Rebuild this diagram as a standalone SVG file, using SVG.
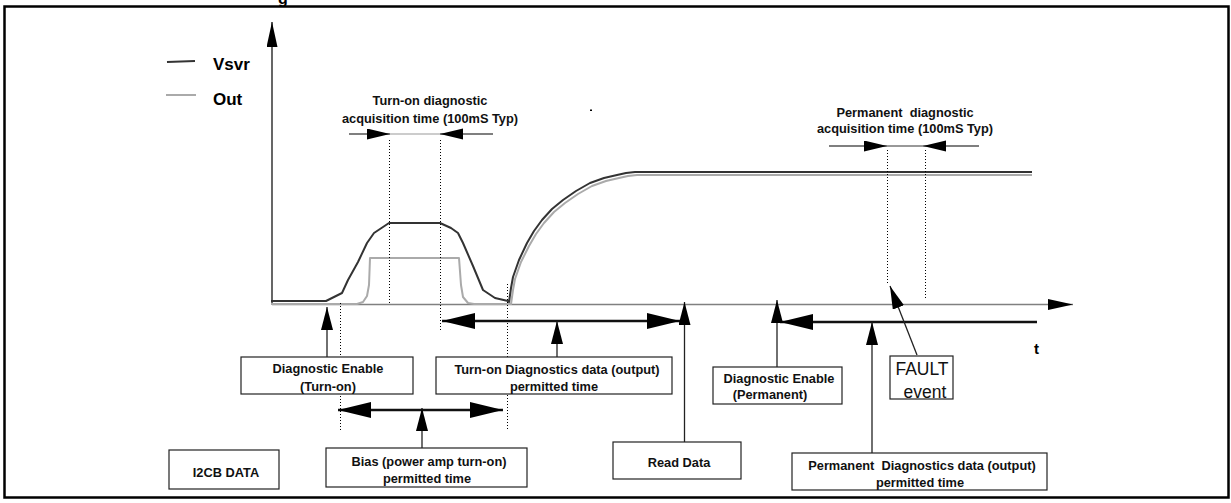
<svg xmlns="http://www.w3.org/2000/svg" width="1231" height="503" viewBox="0 0 1231 503">
<style>
.t{font-family:"Liberation Sans",Arial,sans-serif;font-weight:bold;font-size:12.8px;fill:#111;text-anchor:middle;white-space:pre}
.box{fill:#fff;stroke:#222;stroke-width:1.2}
.dot{stroke:#000;stroke-width:1;stroke-dasharray:1,2;fill:none}
.thick{stroke:#111;stroke-width:2.6;fill:none}
.thin{stroke:#222;stroke-width:1.3;fill:none}
</style>
<defs>
<marker id="big" markerUnits="userSpaceOnUse" markerWidth="34" markerHeight="18" refX="33" refY="8" orient="auto-start-reverse"><path d="M0,0 L33,8 L0,16 z" fill="#000"/></marker>
<marker id="sm" markerUnits="userSpaceOnUse" markerWidth="24" markerHeight="12" refX="23" refY="5.5" orient="auto-start-reverse"><path d="M0,0 L23,5.5 L0,11 z" fill="#000"/></marker>
<marker id="up" markerUnits="userSpaceOnUse" markerWidth="24" markerHeight="14" refX="23" refY="6" orient="auto"><path d="M0,0 L23,6 L0,12 z" fill="#000"/></marker>
<marker id="ax" markerUnits="userSpaceOnUse" markerWidth="26" markerHeight="12" refX="25" refY="5.5" orient="auto"><path d="M0,0 L25,5.5 L0,11 z" fill="#000"/></marker>
</defs>
<rect x="4.5" y="6.5" width="1224" height="491" fill="#fff" stroke="#000" stroke-width="2.5"/>
<text x="283" y="4" style="font-family:'Liberation Sans',Arial,sans-serif;font-weight:bold;font-size:16px" text-anchor="middle">g</text>
<rect x="590" y="109.5" width="2" height="1.5" fill="#000"/>

<g id="axes">
<line x1="272" y1="304" x2="272" y2="22" stroke="#000" stroke-width="1.2" marker-end="url(#ax)"/>
<line x1="272" y1="304.5" x2="1073" y2="304.5" stroke="#808080" stroke-width="1.5" marker-end="url(#ax)"/>
<text x="1034" y="354" style="font-family:'Liberation Sans',Arial,sans-serif;font-weight:bold;font-size:15px">t</text>
</g>

<g id="legend">
<line x1="167" y1="62" x2="195" y2="61" stroke="#333" stroke-width="2"/>
<line x1="166" y1="95" x2="196" y2="95" stroke="#aaa" stroke-width="2"/>
<text x="213" y="70" style="font-family:'Liberation Sans',Arial,sans-serif;font-weight:bold;font-size:17px">Vsvr</text>
<text x="213" y="105" style="font-family:'Liberation Sans',Arial,sans-serif;font-weight:bold;font-size:17px">Out</text>
</g>

<g id="curves" fill="none" stroke-linejoin="round">
<polyline stroke="#aaa" stroke-width="2" points="271,304 357,304 363,302 367,296 369,285 370,258 459,258 461,285 463,297 468,303 474,304 509,304 511,304 513,290 515,279 521,262 529,246 536,234 544,223 554,212 565,203 578,194 592,186 606,181 619,178 628,176 637,175 1032,175"/>
<polyline stroke="#333" stroke-width="2" points="271,301 326,301 342,293 348,280 358,262 367,243 374,233 389,223 440,223 451,228 458,233 463,243 473,266 483,290 495,298 508,301 509,302 511,288 513,277 519,260 527,243 534,231 542,220 552,209 563,200 576,191 590,183 604,178 617,175 626,173 635,172 1032,172"/>
</g>

<g id="dotted">
<line class="dot" x1="389.5" y1="140" x2="389.5" y2="303"/>
<line class="dot" x1="440.5" y1="140" x2="440.5" y2="332"/>
<line class="dot" x1="340.5" y1="303" x2="340.5" y2="432"/>
<line class="dot" x1="507.5" y1="284" x2="507.5" y2="431"/>
<line class="dot" x1="887.5" y1="150" x2="887.5" y2="283"/>
<line class="dot" x1="925.5" y1="150" x2="925.5" y2="299"/>
</g>

<g id="connectors">
<line x1="349" y1="134" x2="390" y2="134" stroke="#000" stroke-width="1.2" marker-end="url(#sm)"/>
<line x1="390" y1="134" x2="440" y2="134" stroke="#999" stroke-width="1"/>
<line x1="493" y1="134" x2="440" y2="134" stroke="#000" stroke-width="1.2" marker-end="url(#sm)"/>
<line x1="829" y1="146" x2="887" y2="146" stroke="#000" stroke-width="1.2" marker-end="url(#sm)"/>
<line x1="887" y1="146" x2="923" y2="146" stroke="#333" stroke-width="1"/>
<line x1="979" y1="146" x2="923" y2="146" stroke="#000" stroke-width="1.2" marker-end="url(#sm)"/>
<line class="thick" x1="442" y1="321" x2="680" y2="321" marker-start="url(#big)" marker-end="url(#big)"/>
<line class="thick" x1="338" y1="410" x2="503" y2="410" marker-start="url(#big)" marker-end="url(#big)"/>
<line class="thick" x1="1037" y1="322" x2="780" y2="322" marker-end="url(#big)"/>
<line class="thin" x1="557" y1="357" x2="557" y2="321" marker-end="url(#up)"/>
<line class="thin" x1="684.5" y1="442" x2="684.5" y2="302" marker-end="url(#up)"/>
<line class="thin" x1="422" y1="448" x2="422" y2="408" marker-end="url(#up)"/>
<line class="thin" x1="327" y1="357" x2="327" y2="307" marker-end="url(#up)"/>
<line class="thin" x1="777" y1="367" x2="777" y2="300" marker-end="url(#up)"/>
<line class="thin" x1="872" y1="453" x2="872" y2="322" marker-end="url(#up)"/>
<line class="thin" x1="917" y1="355" x2="890" y2="286" marker-end="url(#up)"/>
</g>

<g id="label-turnon-acq">
<text class="t" x="430" y="105">Turn-on diagnostic</text>
<text class="t" x="430" y="123">acquisition time (100mS Typ)</text>
</g>
<g id="label-perm-acq">
<text class="t" x="905" y="117" xml:space="preserve">Permanent  diagnostic</text>
<text class="t" x="905" y="133">acquisition time (100mS Typ)</text>
</g>

<g id="box-diag-enable-turnon">
<rect class="box" x="241" y="357" width="172" height="37"/>
<text class="t" x="328" y="373">Diagnostic Enable</text>
<text class="t" x="328" y="391">(Turn-on)</text>
</g>
<g id="box-turnon-data">
<rect class="box" x="436" y="357" width="236" height="37"/>
<text class="t" x="557" y="374">Turn-on Diagnostics data (output)</text>
<text class="t" x="554" y="391">permitted time</text>
</g>
<g id="box-diag-enable-perm">
<rect class="box" x="713" y="367" width="129" height="37"/>
<text class="t" x="779" y="383">Diagnostic Enable</text>
<text class="t" x="770" y="399">(Permanent)</text>
</g>
<g id="box-fault">
<rect class="box" x="890" y="356" width="63" height="43"/>
<text x="922" y="375" text-anchor="middle" style="font-family:'Liberation Sans',Arial,sans-serif;font-size:17.5px;fill:#111">FAULT</text>
<text x="925" y="398" text-anchor="middle" style="font-family:'Liberation Sans',Arial,sans-serif;font-size:17.5px;fill:#111">event</text>
</g>
<g id="box-i2cb">
<rect class="box" x="169" y="450" width="110" height="39"/>
<text class="t" x="226" y="477">I2CB DATA</text>
</g>
<g id="box-bias">
<rect class="box" x="326" y="448" width="201" height="39"/>
<text class="t" x="429" y="466">Bias (power amp turn-on)</text>
<text class="t" x="427" y="483">permitted time</text>
</g>
<g id="box-read">
<rect class="box" x="613" y="442" width="128" height="37"/>
<text class="t" x="679" y="467">Read Data</text>
</g>
<g id="box-perm-data">
<rect class="box" x="792" y="453" width="255" height="37"/>
<text class="t" x="922" y="470" xml:space="preserve">Permanent  Diagnostics data (output)</text>
<text class="t" x="920" y="487">permitted time</text>
</g>
</svg>
